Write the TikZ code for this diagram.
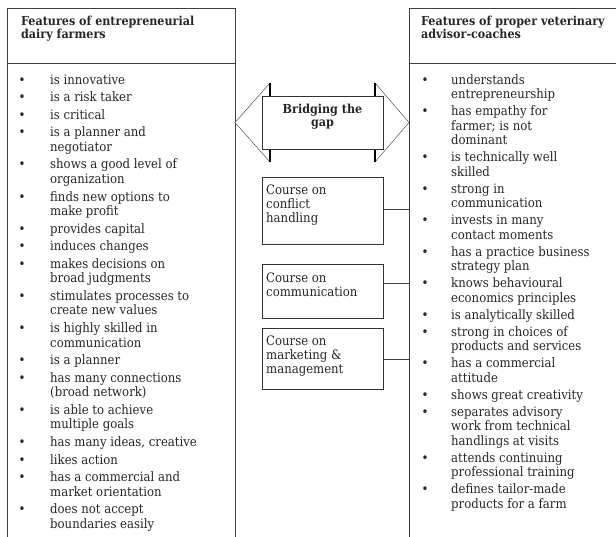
\documentclass[tikz,border=0pt]{standalone}
\usepackage{fontspec}
\setmainfont{DejaVu Serif Condensed}
\usepackage{array}
\usetikzlibrary{positioning}

\begin{document}
\begin{tikzpicture}[x=1pt,y=-1pt,
  frame/.style={draw=black!75,line width=0.8pt,anchor=north west,minimum height=540pt,inner sep=0pt},
  txt/.style={inner sep=0pt,anchor=base west,font=\fontsize{13}{14.5}\selectfont,text=black!85},
  head/.style={txt,font=\fontsize{12.4}{13}\selectfont\bfseries},
  course/.style={draw=black!80,line width=0.7pt,minimum width=121pt,anchor=north west,inner sep=0pt},
  link/.style={draw=black!75,line width=0.7pt}]
  \useasboundingbox (0,0) rectangle (616,536);

  % the two columns
  \node[frame,minimum width=228pt] (farmbox) at (7,8) {};
  \node[frame,minimum width=206.5pt] (vetbox) at (409,8) {};
  \draw[draw=black!75,line width=0.8pt] (7,63) -- (235,63);
  \draw[draw=black!75,line width=0.8pt] (409,63) -- (615.5,63);

  \node[head] (farmhead) at (21,25) {\begin{tabular}[t]{@{}l@{}}Features of entrepreneurial\\dairy farmers\end{tabular}};
  \node[head] (vethead) at (421,25) {\begin{tabular}[t]{@{}l@{}}Features of proper veterinary\\advisor-coaches\end{tabular}};

  \node[txt] (farmlist) at (18.3,84) {\begin{tabular}[t]{@{}p{31.7pt}@{}l@{}}
    \textbullet & is innovative\\[3.1pt]
    \textbullet & is a risk taker\\[3.1pt]
    \textbullet & is critical\\[3.1pt]
    \textbullet & is a planner and\\ & negotiator\\[3.1pt]
    \textbullet & shows a good level of\\ & organization\\[3.1pt]
    \textbullet & finds new options to\\ & make profit\\[3.1pt]
    \textbullet & provides capital\\[3.1pt]
    \textbullet & induces changes\\[3.1pt]
    \textbullet & makes decisions on\\ & broad judgments\\[3.1pt]
    \textbullet & stimulates processes to\\ & create new values\\[3.1pt]
    \textbullet & is highly skilled in\\ & communication\\[3.1pt]
    \textbullet & is a planner\\[3.1pt]
    \textbullet & has many connections\\ & (broad network)\\[3.1pt]
    \textbullet & is able to achieve\\ & multiple goals\\[3.1pt]
    \textbullet & has many ideas, creative\\[3.1pt]
    \textbullet & likes action\\[3.1pt]
    \textbullet & has a commercial and\\ & market orientation\\[3.1pt]
    \textbullet & does not accept\\ & boundaries easily
  \end{tabular}};

  \node[txt] (vetlist) at (421.3,84) {\begin{tabular}[t]{@{}p{29.7pt}@{}l@{}}
    \textbullet & understands\\ & entrepreneurship\\[2.5pt]
    \textbullet & has empathy for\\ & farmer; is not\\ & dominant\\[2.5pt]
    \textbullet & is technically well\\ & skilled\\[2.5pt]
    \textbullet & strong in\\ & communication\\[2.5pt]
    \textbullet & invests in many\\ & contact moments\\[2.5pt]
    \textbullet & has a practice business\\ & strategy plan\\[2.5pt]
    \textbullet & knows behavioural\\ & economics principles\\[2.5pt]
    \textbullet & is analytically skilled\\[2.5pt]
    \textbullet & strong in choices of\\ & products and services\\[2.5pt]
    \textbullet & has a commercial\\ & attitude\\[2.5pt]
    \textbullet & shows great creativity\\[2.5pt]
    \textbullet & separates advisory\\ & work from technical\\ & handlings at visits\\[2.5pt]
    \textbullet & attends continuing\\ & professional training\\[2.5pt]
    \textbullet & defines tailor-made\\ & products for a farm
  \end{tabular}};

  % double arrow
  \draw[draw=black!80,fill=white] (270,83) -- (235,122.5) -- (270,162);
  \draw[draw=black!80,fill=white] (375,83) -- (409,122.5) -- (375,162);
  \draw[line width=1.5pt] (270,83) -- (270,162);
  \draw[line width=1.5pt] (375,83) -- (375,162);
  \node[draw=black!80,fill=white,minimum width=121pt,minimum height=53pt] (bridge) at (322.5,122.5) {};
  \node[head,anchor=north,align=center,below=8pt of bridge.north] (bridgetxt) {Bridging the\\gap};

  % courses
  \node[course,minimum height=67pt] (conflict) at (262,177) {};
  \node[course,minimum height=54pt] (comm) at (262,264) {};
  \node[course,minimum height=61pt] (market) at (262,328) {};
  \node[txt,font=\fontsize{13}{14}\selectfont] (conflicttxt) at (266,194.5) {\begin{tabular}[t]{@{}l@{}}Course on\\conflict\\handling\end{tabular}};
  \node[txt,font=\fontsize{13}{13.5}\selectfont] (commtxt) at (266,282.5) {\begin{tabular}[t]{@{}l@{}}Course on\\communication\end{tabular}};
  \node[txt,font=\fontsize{13}{14}\selectfont] (markettxt) at (266,345.5) {\begin{tabular}[t]{@{}l@{}}Course on\\marketing \&\\management\end{tabular}};

  \draw[link] ([yshift=1.5pt]conflict.east) -- ([yshift=1.5pt]conflict.east -| vetbox.west);
  \draw[link] ([yshift=8pt]comm.east) -- ([yshift=8pt]comm.east -| vetbox.west);
  \draw[link] (market.east) -- (market.east -| vetbox.west);
\end{tikzpicture}
\end{document}
